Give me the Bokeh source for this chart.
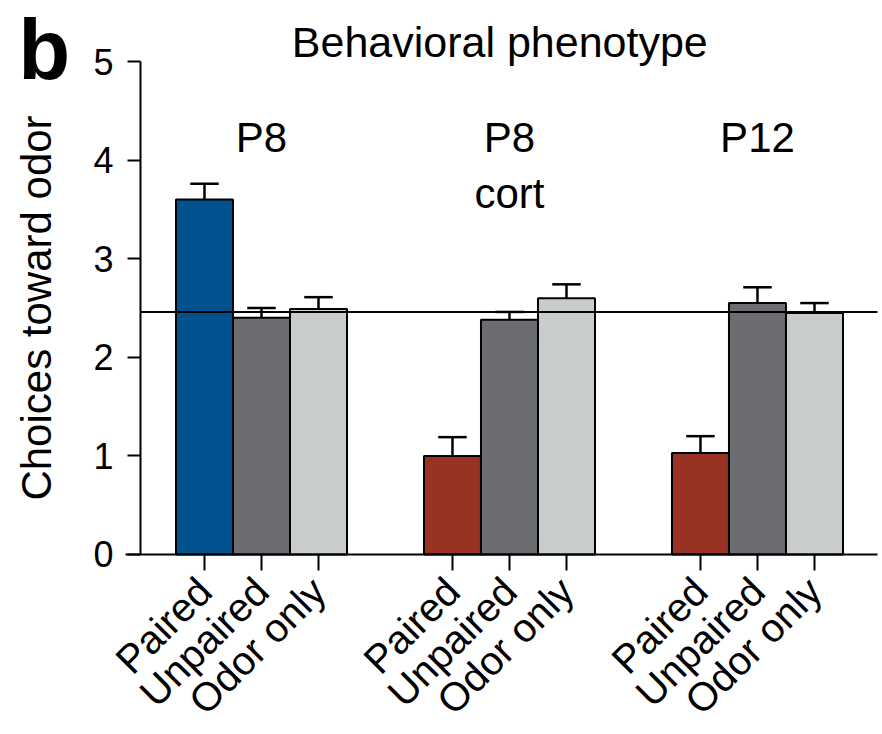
import math
from bokeh.plotting import figure
from bokeh.models import FixedTicker, Label, ColumnDataSource
from bokeh.core.properties import value
from bokeh.embed import file_html
from bokeh.resources import INLINE

# ---- data ----
groups = ["P8", "P8\ncort", "P12"]
conditions = ["Paired", "Unpaired", "Odor only"]
means = [
    [3.60, 2.40, 2.49],   # P8
    [1.00, 2.38, 2.60],   # P8 cort
    [1.03, 2.55, 2.45],   # P12
]
sems = [
    [0.16, 0.10, 0.12],
    [0.19, 0.08, 0.14],
    [0.17, 0.16, 0.10],
]
y_ticks = [0, 1, 2, 3, 4, 5]
chance_level = 2.46
paired_colors = ["#02528F", "#983222", "#983222"]
unpaired_color = "#6C6D70"
odor_color = "#C9CCCC"

FONT = "Liberation Sans"
group_step = 4.35

# ---- derived table ----
xs, tops, errs, colors, labels = [], [], [], [], []
for g in range(len(groups)):
    for i, cond in enumerate(conditions):
        xs.append(g * group_step + i)
        tops.append(means[g][i])
        errs.append(sems[g][i])
        colors.append([paired_colors[g], unpaired_color, odor_color][i])
        labels.append(cond)
upper = [t + e for t, e in zip(tops, errs)]
cap_w = 0.25
src = ColumnDataSource(dict(x=xs, top=tops, upper=upper, color=colors,
                            cl=[x - cap_w for x in xs], cr=[x + cap_w for x in xs]))

# ranges: the frame covers the whole canvas; axes are pinned inside it
x_start, x_end = -3.578, 11.893
y_start, y_end = -1.826, 5.619
y_axis_x = -1.123          # where the y axis sits
x_axis_left, x_axis_right = -1.386, 11.805

p = figure(width=882, height=734, x_range=(x_start, x_end), y_range=(y_start, y_end),
           output_backend="svg", toolbar_location=None,
           min_border_left=0, min_border_right=0, min_border_top=0, min_border_bottom=0)
p.outline_line_color = None
p.xgrid.grid_line_color = None
p.ygrid.grid_line_color = None
p.background_fill_color = "white"
p.border_fill_color = "white"

# bars
p.vbar(x="x", top="top", bottom=0, width=1.0, source=src, fill_color="color",
       line_color="black", line_width=2)
# error bars (upward only)
p.segment(x0="x", y0="top", x1="x", y1="upper", source=src, line_color="black", line_width=2.5)
p.segment(x0="cl", y0="upper", x1="cr", y1="upper", source=src, line_color="black", line_width=2.5)

# chance line
p.segment(x0=[y_axis_x], y0=[chance_level], x1=[x_axis_right], y1=[chance_level],
          line_color="black", line_width=2)

# group labels
gx = [g * group_step + 1 for g in range(len(groups))]
p.text(x=gx, y=[4.47] * len(groups), text=groups, text_align="center", text_baseline="top",
       text_font=value(FONT), text_font_size="42px", text_color="black", text_line_height=1.2)

# title
p.add_layout(Label(x=5.18, y=5.20, text="Behavioral phenotype", text_font=FONT,
                   text_font_size="43px", text_align="center", text_baseline="alphabetic",
                   text_color="black"))

# panel letter
p.add_layout(Label(x=-2.81, y=5.12, text="b", text_font=FONT, text_font_size="85px",
                   text_font_style="bold", text_align="center", text_baseline="alphabetic",
                   text_color="black"))

# y axis
ya = p.yaxis[0]
ya.fixed_location = y_axis_x
ya.bounds = (y_ticks[0], y_ticks[-1])
ya.ticker = FixedTicker(ticks=y_ticks)
ya.axis_label = "Choices toward odor"
ya.axis_label_text_font = FONT
ya.axis_label_text_font_size = "42px"
ya.axis_label_text_font_style = "normal"
ya.axis_label_text_color = "black"
ya.axis_label_standoff = 30
ya.major_label_text_font = FONT
ya.major_label_text_font_size = "36px"
ya.major_label_text_color = "black"
ya.major_label_standoff = 14
ya.major_tick_out = 13
ya.major_tick_in = 0
ya.minor_tick_line_color = None
ya.axis_line_width = 2
ya.major_tick_line_width = 2
ya.axis_line_color = "black"
ya.major_tick_line_color = "black"

# x axis
xa = p.xaxis[0]
xa.fixed_location = 0
xa.bounds = (x_axis_left, x_axis_right)
xa.ticker = FixedTicker(ticks=xs)
xa.major_label_overrides = {x: lab for x, lab in zip(xs, labels)}
xa.major_label_orientation = math.pi / 4
xa.major_label_text_font = FONT
xa.major_label_text_font_size = "40px"
xa.major_label_text_color = "black"
xa.major_label_standoff = 14
xa.major_tick_out = 16
xa.major_tick_in = 0
xa.minor_tick_line_color = None
xa.axis_line_width = 2
xa.major_tick_line_width = 2
xa.axis_line_color = "black"
xa.major_tick_line_color = "black"

open("out.html", "w").write(file_html(p, INLINE))
